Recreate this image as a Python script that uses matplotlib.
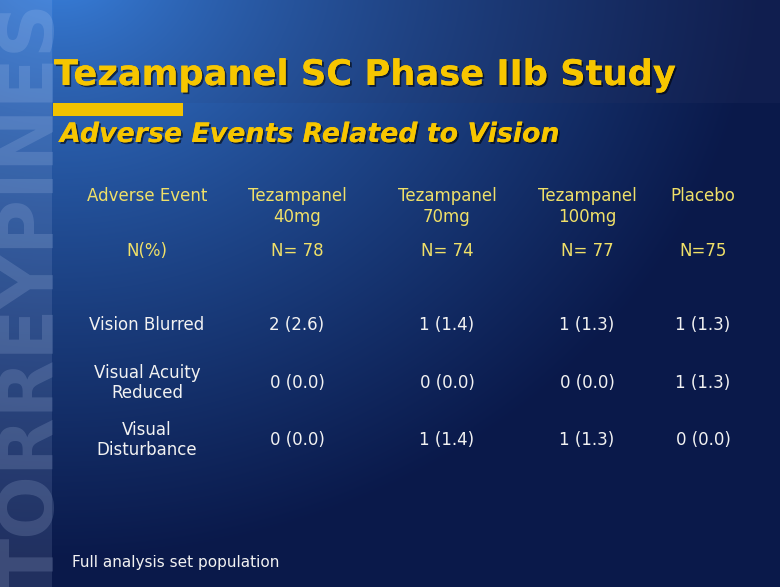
import numpy as np
import matplotlib
matplotlib.use("Agg")
import matplotlib.pyplot as plt
import matplotlib.patheffects as pe
from matplotlib.patches import Rectangle

# ---- data ----
title = "Tezampanel SC Phase IIb Study"
subtitle = "Adverse Events Related to Vision"
col_headers = ["Adverse Event", "Tezampanel\n40mg", "Tezampanel\n70mg", "Tezampanel\n100mg", "Placebo"]
n_labels = ["N(%)", "N= 78", "N= 74", "N= 77", "N=75"]
events = ["Vision Blurred", "Visual Acuity\nReduced", "Visual\nDisturbance"]
counts = [[2, 1, 1, 1],
          [0, 0, 0, 1],
          [0, 1, 1, 0]]
percents = [[2.6, 1.4, 1.3, 1.3],
            [0.0, 0.0, 0.0, 1.3],
            [0.0, 1.4, 1.3, 0.0]]
footnote = "Full analysis set population"
watermark = "TORREYPINES"

W, H = 780, 587
fig = plt.figure(figsize=(W / 100, H / 100), dpi=100)
ax = fig.add_axes([0, 0, 1, 1])
ax.set_xlim(0, W)
ax.set_ylim(H, 0)
ax.axis("off")

# background gradient
yy, xx = np.mgrid[0:H, 0:W]
d = np.sqrt(((xx - 60) / 700.0) ** 2 + ((yy + 40) / 600.0) ** 2)
t = np.clip(d, 0, 1) ** 0.75
c0 = np.array([0x3c, 0x88, 0xe8]) / 255.0
c1 = np.array([0x0a, 0x19, 0x4a]) / 255.0
img = c0[None, None, :] * (1 - t[..., None]) + c1[None, None, :] * t[..., None]
band = (yy < 103) & (xx > 52)
tb = t[band][:, None]
img[band] = img[band] * (1 - 0.22 * tb) + np.array([0.16, 0.20, 0.38]) * 0.22 * tb
ax.imshow(img, extent=[0, W, H, 0], aspect="auto", zorder=0)

# left strip
strip = Rectangle((0, 0), 52, H, facecolor="#c8d8ff", alpha=0.12, lw=0, zorder=1)
ax.add_patch(strip)
wm = ax.text(54, 589, watermark, rotation=90, rotation_mode="anchor",
             ha="left", va="baseline", fontsize=54, fontweight="bold",
             color="#d0e0ff", alpha=0.16, family="DejaVu Sans", zorder=2)
wm.set_clip_path(Rectangle((0, 0), 52, H, transform=ax.transData))

# title
shadow = [pe.withSimplePatchShadow(offset=(1.3, -1.3), shadow_rgbFace="black", alpha=0.6), pe.Normal()]
ax.text(54, 75, title, ha="left", va="center", fontsize=25.4, fontweight="bold",
        color="#f7c600", family="DejaVu Sans", path_effects=shadow, zorder=3)
ax.add_patch(Rectangle((53, 103), 130, 13, facecolor="#f2c200", lw=0, zorder=3))
ax.text(60, 135, subtitle, ha="left", va="center", fontsize=19.3, fontweight="bold",
        style="italic", color="#f7c600", family="DejaVu Sans", path_effects=shadow, zorder=3)

# table
col_x = [147, 297, 447, 587, 703]
hdr_color = "#f0e068"
body_color = "#f2f2f2"
fs = 12
for x, h in zip(col_x, col_headers):
    ax.text(x, 187, h, ha="center", va="top", fontsize=fs, color=hdr_color,
            linespacing=1.2, family="DejaVu Sans", zorder=3)
for x, n in zip(col_x, n_labels):
    ax.text(x, 251, n, ha="center", va="center", fontsize=fs, color=hdr_color,
            family="DejaVu Sans", zorder=3)

row_y = [325, 383, 440]
for y, ev, cs, ps in zip(row_y, events, counts, percents):
    ax.text(col_x[0], y, ev, ha="center", va="center", fontsize=fs, color=body_color,
            linespacing=1.2, family="DejaVu Sans", zorder=3)
    for x, c, p in zip(col_x[1:], cs, ps):
        ax.text(x, y, f"{c} ({p:.1f})", ha="center", va="center", fontsize=fs,
                color=body_color, family="DejaVu Sans", zorder=3)

ax.text(72, 562, footnote, ha="left", va="center", fontsize=11, color=body_color,
        family="DejaVu Sans", zorder=3)

fig.savefig("out.png", dpi=100)
